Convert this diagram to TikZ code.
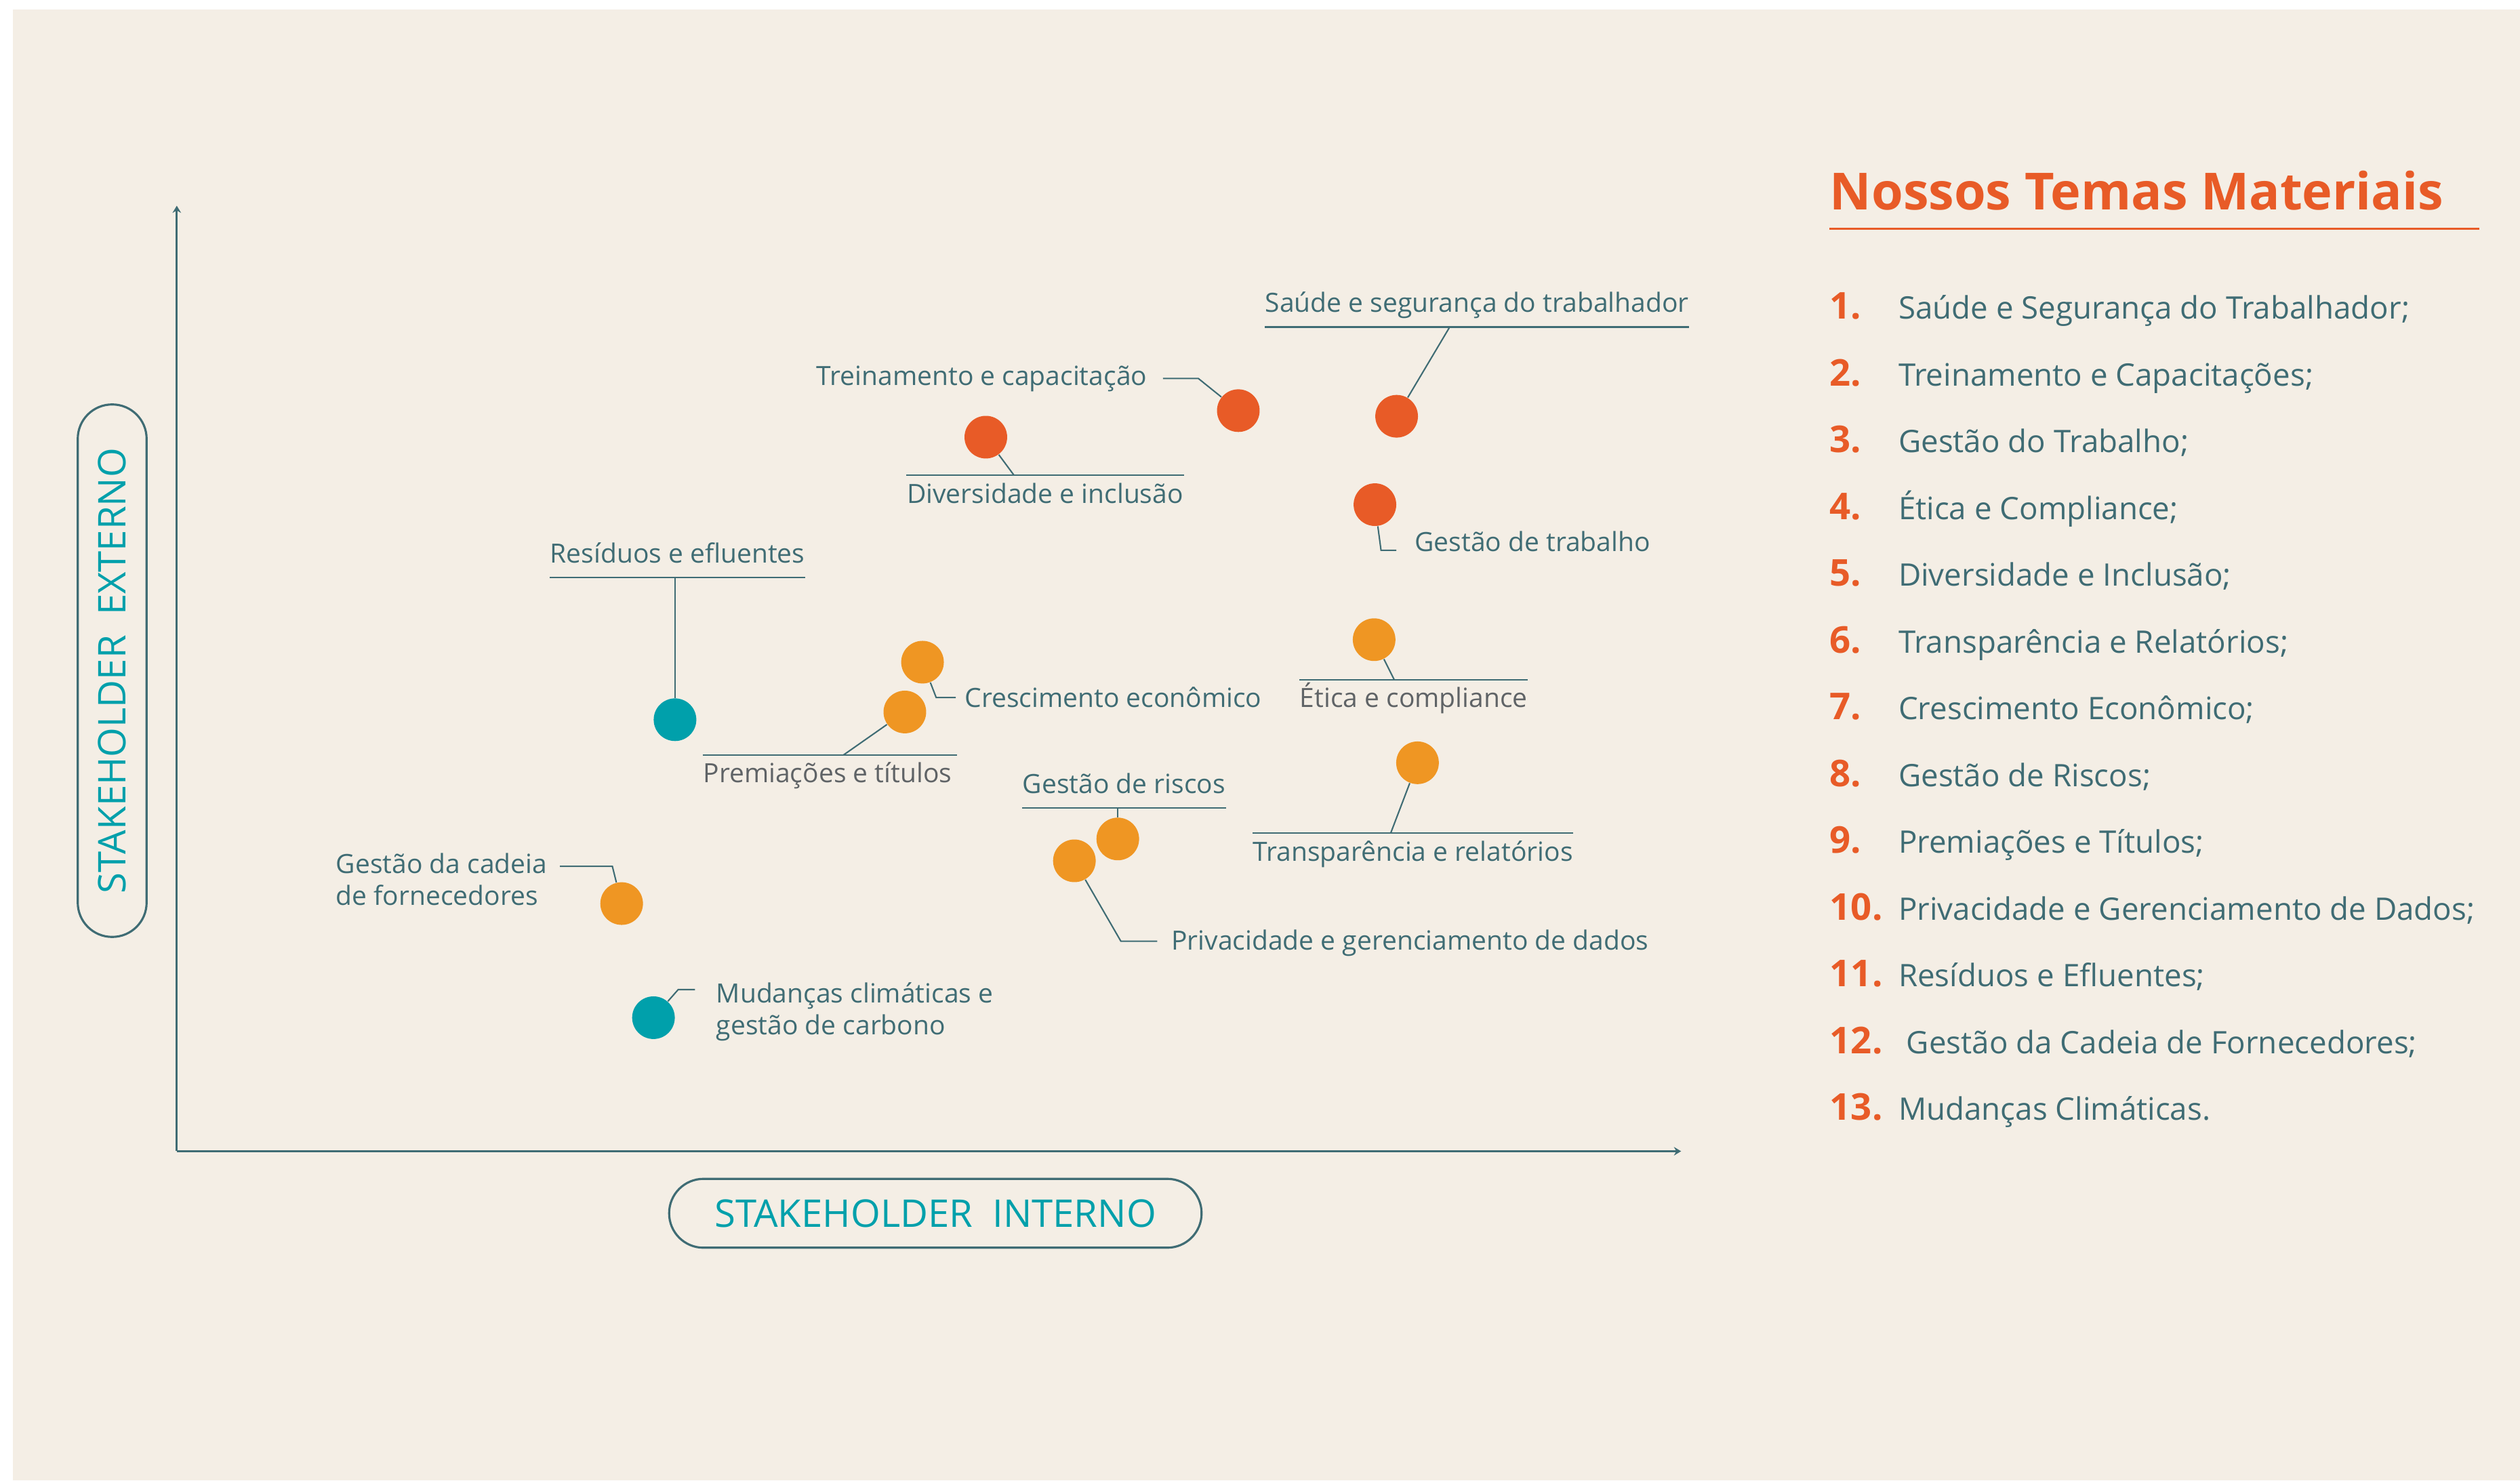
\documentclass[tikz,border=0pt]{standalone}
\usepackage{fontspec}
\setmainfont{Open Sans}
\usepackage{xcolor}
\usepackage{tikz}
\usetikzlibrary{positioning,arrows.meta}

\definecolor{bgbeige}{HTML}{F4EEE5}
\definecolor{ink}{HTML}{3F6C74}
\definecolor{inkgray}{HTML}{5F6366}
\definecolor{redorange}{HTML}{E85B27}
\definecolor{amber}{HTML}{EF9623}
\definecolor{tealdot}{HTML}{00A0AB}

\begin{document}
\begin{tikzpicture}[x=0.2371mm, y=-0.2371mm,
    dot/.style={circle, inner sep=0pt, minimum size=17.9pt},
    lbl/.style={font=\fontsize{11.1}{13.3}\selectfont, text=ink, inner xsep=0pt, inner ysep=3.2pt, text height=8.3pt, text depth=2.8pt},
    lbltwo/.style={font=\fontsize{11.1}{13.3}\selectfont, text=ink, inner sep=0pt, align=left, anchor=north west},
    link/.style={draw=ink, line width=0.6pt},
    axis/.style={draw=ink, line width=0.85pt, -{Stealth[length=3pt, width=3.6pt, inset=1pt]}},
    pill/.style={draw=ink, line width=0.9pt, rounded corners=14.4pt, minimum width=223.5pt, minimum height=28.9pt, text=tealdot, font=\fontsize{16}{18}\selectfont},
    title/.style={anchor=base west, inner xsep=0pt, inner ysep=7.6pt, text depth=0pt, text=redorange, font=\fontsize{21.5}{24}\selectfont\bfseries},
    num/.style={anchor=base west, inner sep=0pt, text=redorange, font=\fontsize{15.5}{18}\selectfont\bfseries},
    item/.style={anchor=base west, inner sep=0pt, text=ink, font=\fontsize{13}{16}\selectfont}]

    % Background
    \useasboundingbox (0,0) rectangle (1568,921.1);
    \fill[white] (0,0) rectangle (1568,921.1);
    \fill[bgbeige] (8,5.9) rectangle (1568,921.1);

    % Axes
    \coordinate (o) at (110,716.3);
    \coordinate (ytop) at (110,128);
    \coordinate (xend) at (1046,716.3);
    \draw[axis] (o) -- (ytop);
    \draw[axis] (o) -- (xend);
    \node[pill] (xlbl) at (582,754.9) {STAKEHOLDER\ \ INTERNO\hspace{6pt}};
    \node[pill, rotate=90] (ylbl) at (69.8,417.3) {STAKEHOLDER\ \ EXTERNO\hspace{6pt}};

    % Dots
    \node[dot, fill=redorange] (d1) at (869,259) {};
    \node[dot, fill=redorange] (d2) at (770.5,255.5) {};
    \node[dot, fill=redorange] (d3) at (855.5,314) {};
    \node[dot, fill=amber] (d4) at (855,398) {};
    \node[dot, fill=redorange] (d5) at (613.4,272) {};
    \node[dot, fill=amber] (d6) at (882,474.6) {};
    \node[dot, fill=amber] (d7) at (574,412) {};
    \node[dot, fill=amber] (d8) at (695.5,522) {};
    \node[dot, fill=amber] (d9) at (563,443) {};
    \node[dot, fill=amber] (d10) at (668.5,535.6) {};
    \node[dot, fill=tealdot] (d11) at (420,447.8) {};
    \node[dot, fill=amber] (d12) at (386.8,562.2) {};
    \node[dot, fill=tealdot] (d13) at (406.6,633.2) {};

    % Labels
    \node[lbl, anchor=south west] (l1) at (787,203.5) {Saúde e segurança do trabalhador};
    \node[lbl, anchor=east] (l2) at (714,235.5) {Treinamento e capacitação};
    \node[lbl, anchor=base west] (l3) at (880,343) {Gestão de trabalho};
    \node[lbl, anchor=north west, text=inkgray] (l4) at (808.5,422.9) {Ética e compliance};
    \node[lbl, anchor=north west] (l5) at (564,295.8) {Diversidade e inclusão};
    \node[lbl, anchor=north west] (l6) at (779.4,518.4) {Transparência e relatórios};
    \node[lbl, anchor=base west] (l7) at (600,440) {Crescimento econômico};
    \node[lbl, anchor=south west] (l8) at (636,502.7) {Gestão de riscos};
    \node[lbl, anchor=north west, text=inkgray] (l9) at (437.3,469.7) {Premiações e títulos};
    \node[lbl, anchor=base west] (l10) at (728.6,591) {Privacidade e gerenciamento de dados};
    \node[lbl, anchor=south west] (l11) at (342,359.3) {Resíduos e efluentes};
    \node[lbltwo] (l12) at (208.8,530.5) {Gestão da cadeia\\de fornecedores};
    \node[lbltwo] (l13) at (445.4,611.2) {Mudanças climáticas e\\gestão de carbono};

    % Underlines
    \draw[link] (l1.south west) -- (l1.south east);
    \draw[link] (l4.north west) -- (l4.north east);
    \draw[link] (l5.north west) -- (l5.north east);
    \draw[link] (l6.north west) -- (l6.north east);
    \draw[link] (l8.south west) -- (l8.south east);
    \draw[link] (l9.north west) -- ([xshift=2pt]l9.north east);
    \draw[link] (l11.south west) -- (l11.south east);

    % Connectors
    \coordinate (c1) at (902,203.5);
    \coordinate (c3) at (859.3,342.4);
    \coordinate (c4) at (867.5,422.9);
    \coordinate (c5) at (631,295.8);
    \coordinate (c6) at (865.3,518.4);
    \coordinate (c7) at (582.5,434);
    \coordinate (c8) at (695.5,502.7);
    \coordinate (c9) at (524.9,469.7);
    \coordinate (c10) at (697.4,585.6);
    \coordinate (c11) at (420,359.3);
    \coordinate (c12) at (348.4,539);
    \coordinate (c13) at (422,615.7);
    \draw[link] (c1) -- (d1);
    \draw[link] ([xshift=6.5pt]l2.east) -- ++(22,0) -- (d2);
    \draw[link] (d3) -- (c3) -- ++(9.5,0);
    \draw[link] (d4) -- (c4);
    \draw[link] (d5) -- (c5);
    \draw[link] (d6) -- (c6);
    \draw[link] (d7) -- (c7) -- ++(12.2,0);
    \draw[link] (c8) -- (d8);
    \draw[link] (d9) -- (c9);
    \draw[link] (d10) -- (c10) -- ++(22.6,0);
    \draw[link] (c11) -- (d11);
    \draw[link] (c12) -- ++(32.6,0) -- (d12);
    \draw[link] (d13) -- (c13) -- ++(10.4,0);

    % Nossos Temas Materiais
    \node[title] (title) at (1138.3,130.7) {Nossos Temas Materiais};
    \draw[redorange, line width=0.7pt] (title.south west) -- ++(404.5,0);

    \node[num] (n1) at (1138.3,198.6) {1.};
    \node[item] (i1) at (1181,198.6) {Saúde e Segurança do Trabalhador;};
    \node[num] (n2) at (1138.3,240.1) {2.};
    \node[item] (i2) at (1181,240.1) {Treinamento e Capacitações;};
    \node[num] (n3) at (1138.3,281.7) {3.};
    \node[item] (i3) at (1181,281.7) {Gestão do Trabalho;};
    \node[num] (n4) at (1138.3,323.2) {4.};
    \node[item] (i4) at (1181,323.2) {Ética e Compliance;};
    \node[num] (n5) at (1138.3,364.7) {5.};
    \node[item] (i5) at (1181,364.7) {Diversidade e Inclusão;};
    \node[num] (n6) at (1138.3,406.3) {6.};
    \node[item] (i6) at (1181,406.3) {Transparência e Relatórios;};
    \node[num] (n7) at (1138.3,447.8) {7.};
    \node[item] (i7) at (1181,447.8) {Crescimento Econômico;};
    \node[num] (n8) at (1138.3,489.3) {8.};
    \node[item] (i8) at (1181,489.3) {Gestão de Riscos;};
    \node[num] (n9) at (1138.3,530.8) {9.};
    \node[item] (i9) at (1181,530.8) {Premiações e Títulos;};
    \node[num] (n10) at (1138.3,572.4) {10.};
    \node[item] (i10) at (1181,572.4) {Privacidade e Gerenciamento de Dados;};
    \node[num] (n11) at (1138.3,613.9) {11.};
    \node[item] (i11) at (1181,613.9) {Resíduos e Efluentes;};
    \node[num] (n12) at (1138.3,655.4) {12.};
    \node[item] (i12) at (1186,655.4) {Gestão da Cadeia de Fornecedores;};
    \node[num] (n13) at (1138.3,697) {13.};
    \node[item] (i13) at (1181,697) {Mudanças Climáticas.};
\end{tikzpicture}
\end{document}
